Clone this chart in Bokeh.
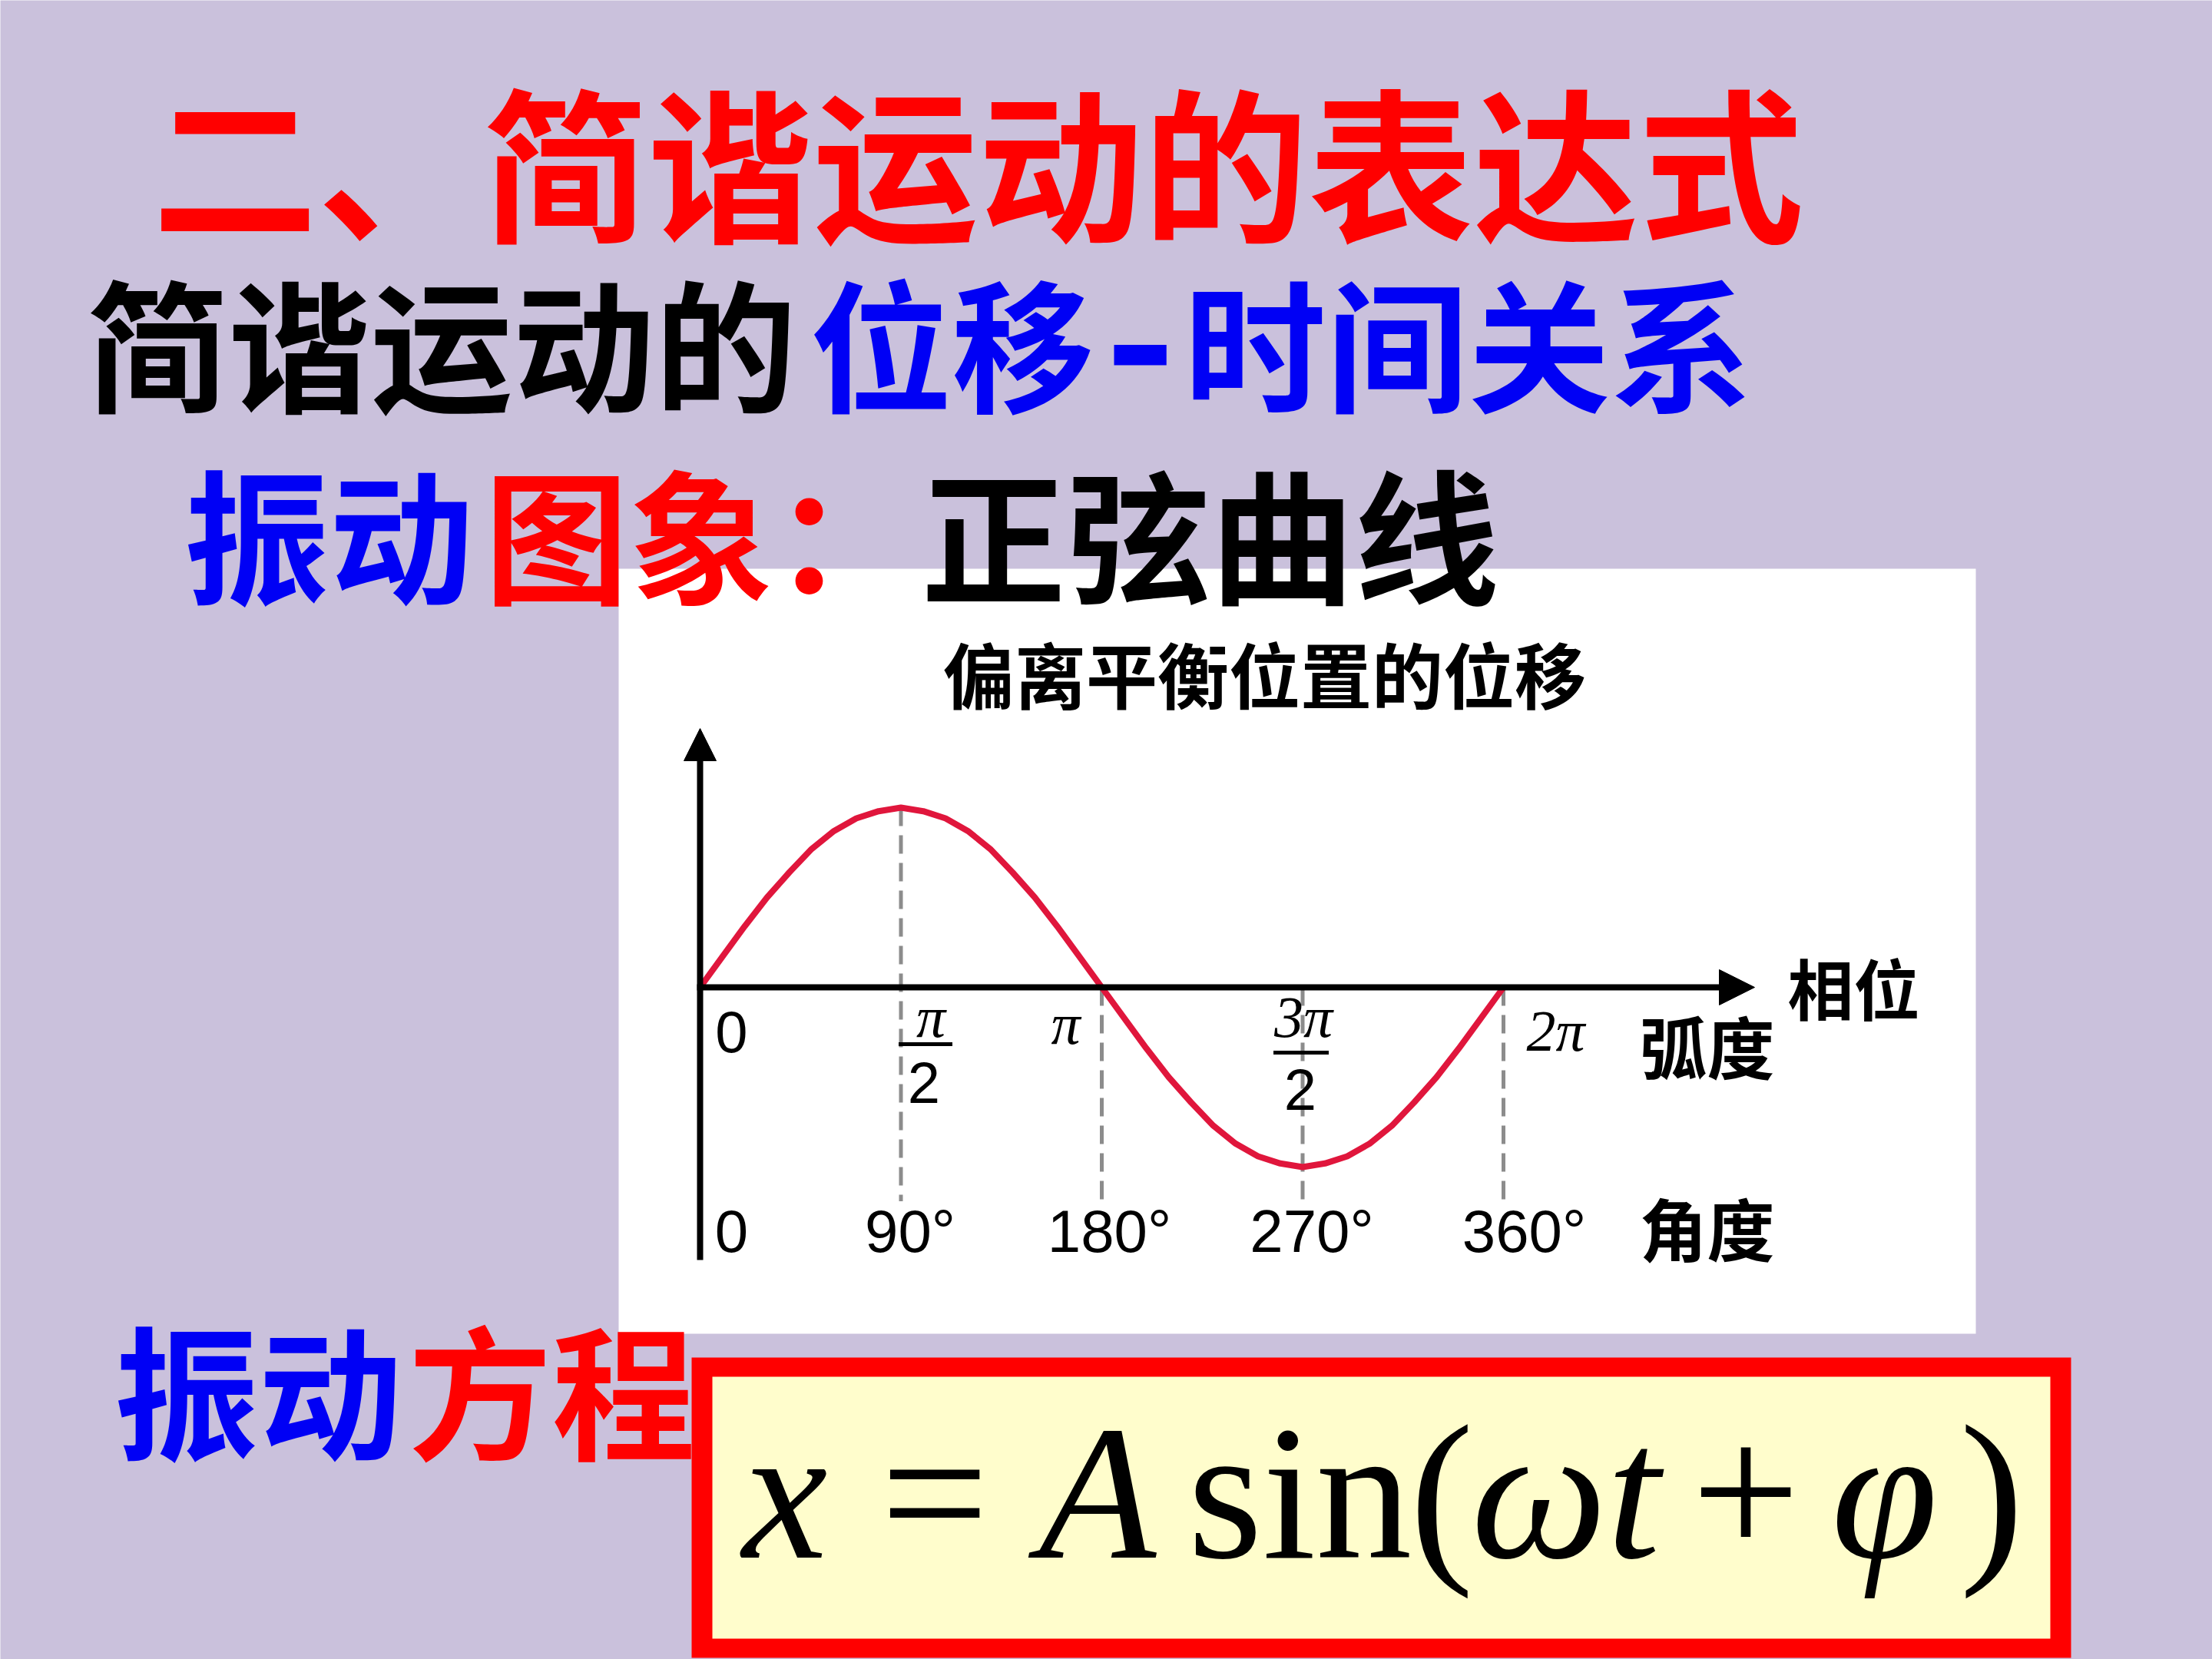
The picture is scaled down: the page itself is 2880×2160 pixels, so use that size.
from bokeh.plotting import figure
from bokeh.models import Range1d, Arrow, NormalHead
from bokeh.core.properties import value
from bokeh.embed import file_html
from bokeh.resources import INLINE

# ---------------- data ----------------
phase_deg = [0, 10, 20, 30, 40, 50, 60, 70, 80, 90, 100, 110, 120, 130, 140, 150, 160, 170, 180,
             190, 200, 210, 220, 230, 240, 250, 260, 270, 280, 290, 300, 310, 320, 330, 340, 350, 360]
displacement = [0.0, 0.17, 0.34, 0.5, 0.64, 0.77, 0.87, 0.94, 0.98, 1.0, 0.98, 0.94, 0.87, 0.77,
                0.64, 0.5, 0.34, 0.17, 0.0, -0.17, -0.34, -0.5, -0.64, -0.77, -0.87, -0.94, -0.98,
                -1.0, -0.98, -0.94, -0.87, -0.77, -0.64, -0.5, -0.34, -0.17, 0.0]
tick_deg = [0, 90, 180, 270, 360]
deg_labels = ["0", "90°", "180°", "270°", "360°"]
rad_numer = ["0", "π", "π", "3π", "2π"]
frac_deg = [90, 270]
frac_denom = ["2", "2"]
guide_deg = [90, 180, 270, 360]
guide_top = [1.0, 0.0, 0.0, 0.0]

# ---------------- layout constants ----------------
W, H = 2880, 2160
BG = "#CAC1DC"
RED = "#FF0000"
BLUE = "#0000F5"
CJK = "Noto Sans CJK SC"

px_per_deg = 1046 / 360.0
x0px = 911
amp_px = 234.0
axis_px = 1285

p = figure(width=W, height=H, x_range=Range1d(0, W), y_range=Range1d(H, 0),
           output_backend="svg", toolbar_location=None, min_border=0)
p.axis.visible = False
p.grid.visible = False
p.outline_line_color = None
p.background_fill_color = BG
p.border_fill_color = BG
p.extra_x_ranges = {"phase": Range1d(-x0px / px_per_deg, (W - x0px) / px_per_deg)}
p.extra_y_ranges = {"disp": Range1d(-(H - axis_px) / amp_px, axis_px / amp_px)}


def txt(s, x, y, size, color, font=CJK, style="bold", align="left", baseline="middle"):
    p.text(x=[x], y=[y], text=[s], text_color=color, text_font=value(font),
           text_font_size=value(f"{size}px"), text_font_style=style,
           text_align=align, text_baseline=baseline)


# ---------------- slide headings ----------------
txt("二、简谐运动的表达式", 198, 205, 215, RED)
txt("简谐运动的", 112, 441, 185, "black")
txt("位移", 1054, 441, 185, BLUE)
txt("-", 1484, 441, 250, BLUE, align="center")
txt("时间关系", 1541, 441, 185, BLUE)

# ---------------- white chart panel ----------------
p.quad(left=[805], right=[2572], top=[740], bottom=[1736], fill_color="white", line_color=None)

txt("振动", 240, 689, 188, BLUE)
txt("图象：", 630, 689, 188, RED)
txt("正弦曲线", 1199, 689, 188, "black")

txt("偏离平衡位置的位移", 1646, 875, 93, "black", align="center")

# dashed guides
p.segment(x0=guide_deg, y0=guide_top, x1=guide_deg, y1=[-1.19] * len(guide_deg),
          x_range_name="phase", y_range_name="disp",
          line_color="#8C8C8C", line_width=5, line_dash="24 12")

# axes with arrow heads
p.add_layout(Arrow(end=NormalHead(size=42, fill_color="black", line_color="black"),
                   x_start=911, y_start=1640, x_end=911, y_end=948,
                   line_width=8, line_color="black"))
p.add_layout(Arrow(end=NormalHead(size=46, fill_color="black", line_color="black"),
                   x_start=907, y_start=axis_px, x_end=2284, y_end=axis_px,
                   line_width=8, line_color="black"))

# sine curve
p.line(phase_deg, displacement, x_range_name="phase", y_range_name="disp",
       line_color="#E0163C", line_width=8, line_join="round")

# tick labels: degrees
deg_off = [41, 12, 10, 12, 27]
p.text(x=tick_deg, y=[1602] * 5, text=deg_labels, x_range_name="phase", x_offset=deg_off,
       text_font=value("Liberation Sans"), text_font_size=value("78px"),
       text_align="center", text_baseline="middle", text_color="black")

# tick labels: radians (numerators / single symbols)
rad_off = [41, 39, -47, 1, 68]
rad_y = [1343, 1323, 1332, 1323, 1341]
p.text(x=tick_deg[:1], y=rad_y[:1], text=rad_numer[:1], x_range_name="phase", x_offset=rad_off[:1],
       text_font=value("Liberation Sans"), text_font_size=value("76px"),
       text_align="center", text_baseline="middle", text_color="black")
p.text(x=tick_deg[1:], y=rad_y[1:], text=rad_numer[1:], x_range_name="phase", x_offset=rad_off[1:],
       text_font=value("Liberation Serif"), text_font_size=value("76px"), text_font_style="italic",
       text_align="center", text_baseline="middle", text_color="black")

# fraction bars and denominators
bar_off = [32, -2]
bar_y = [1359, 1370]
bar_x = [d + o / px_per_deg for d, o in zip(frac_deg, bar_off)]
p.rect(x=bar_x, y=bar_y, width=[70, 72], height=5, width_units="screen", height_units="screen",
       x_range_name="phase", fill_color="black", line_color=None)
p.text(x=frac_deg, y=[1409, 1418], text=frac_denom, x_range_name="phase", x_offset=[30, -3],
       text_font=value("Liberation Sans"), text_font_size=value("76px"),
       text_align="center", text_baseline="middle", text_color="black")

txt("相位", 2327, 1284, 86, "black")
txt("弧度", 2134, 1359, 88, "black")
txt("角度", 2134, 1596, 88, "black")

# ---------------- equation ----------------
txt("振动", 149, 1805, 187, BLUE)
txt("方程", 531, 1805, 187, RED)

p.quad(left=[900], right=[2696], top=[1767], bottom=[2158], fill_color="#FF0000", line_color=None)
p.quad(left=[927], right=[2669], top=[1792], bottom=[2133], fill_color="#FFFDCC", line_color=None)

eq_pieces = [("x", "italic", 966), ("=", "normal", 1146), ("A", "italic", 1352),
             ("sin", "normal", 1546), ("(", "normal", 1835), ("ωt", "italic", 1915),
             ("+", "normal", 2202), ("φ", "italic", 2384), (")", "normal", 2551)]
for s, st, x in eq_pieces:
    txt(s, x, 1943, 250, "black", font="Liberation Serif", style=st, baseline="alphabetic")

open("out.html", "w").write(file_html(p, INLINE))
